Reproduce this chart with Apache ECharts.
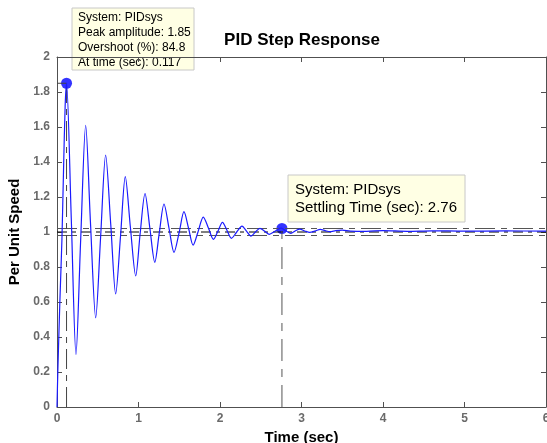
<!DOCTYPE html>
<html>
<head>
<meta charset="utf-8">
<script src="https://cdn.jsdelivr.net/npm/echarts@6/dist/echarts.min.js"></script>
<style>
html,body{margin:0;padding:0;background:#fff;overflow:hidden;}
#c{width:547px;height:443px;}
</style>
</head>
<body>
<div id="c"></div>
<script>
// ---- data ----
const timeSec = [0, 0.01, 0.035, 0.06, 0.08, 0.1, 0.117, 0.175, 0.233, 0.29, 0.352, 0.41, 0.475, 0.535, 0.597, 0.66, 0.72, 0.78, 0.838, 0.9, 0.966, 1.02, 1.08, 1.14, 1.2, 1.255, 1.313, 1.375, 1.436, 1.5, 1.558, 1.615, 1.67, 1.73, 1.795, 1.86, 1.92, 1.975, 2.03, 2.085, 2.14, 2.205, 2.27, 2.325, 2.38, 2.435, 2.49, 2.55, 2.605, 2.67, 2.75, 2.81, 2.87, 2.92, 2.98, 3.04, 3.1, 3.17, 3.23, 3.29, 3.35, 3.42, 3.5, 3.6, 3.8, 4.0, 4.3, 4.6, 5.0, 5.5, 6.0];
const speed = [0, 0.2, 0.6, 0.95, 1.35, 1.72, 1.85, 1.08, 0.30, 0.95, 1.61, 1.06, 0.51, 0.97, 1.44, 1.04, 0.646, 0.98, 1.316, 1.03, 0.749, 0.99, 1.22, 1.02, 0.827, 0.995, 1.16, 1.02, 0.884, 1.0, 1.116, 1.02, 0.925, 1.0, 1.085, 1.02, 0.958, 1.005, 1.055, 1.01, 0.964, 1.0, 1.034, 1.005, 0.977, 1.0, 1.021, 1.004, 0.987, 1.003, 1.022, 1.006, 0.992, 1.005, 1.016, 1.006, 0.998, 1.006, 1.015, 1.008, 1.002, 1.008, 1.011, 1.005, 1.004, 1.008, 1.004, 1.007, 1.005, 1.006, 1.005];
const peakTime = 0.117, peakAmp = 1.85, overshootPct = 84.8;
const settleTime = 2.76, settleAmp = 1.02;
const steadyValue = 1.0;
const settleBand = [0.98, 1.02];
const xTicks = [0, 1, 2, 3, 4, 5, 6];
const yTicks = [0, 0.2, 0.4, 0.6, 0.8, 1, 1.2, 1.4, 1.6, 1.8, 2];
const systemName = 'PIDsys';

// ---- chart ----
const FONT = '"Liberation Sans", Arial, Helvetica, sans-serif';
const AX = '#505050';
const chart = echarts.init(document.getElementById('c'), null, {renderer: 'canvas'});

const responseData = timeSec.map((t, i) => [t, speed[i]]);
const xMin = xTicks[0], xMax = xTicks[xTicks.length - 1];
const yMin = yTicks[0], yMax = yTicks[yTicks.length - 1];
const xInt = xTicks[1] - xTicks[0];
const yInt = 0.2;

function fmtY(v){ return (Math.round(v * 10) / 10).toString(); }

const axisCommon = {
  axisLine: {show: true, onZero: false, lineStyle: {color: AX, width: 1}},
  axisTick: {show: true, inside: true, length: 5, lineStyle: {color: AX}},
  splitLine: {show: false}
};

const dashDot = [20, 6, 6, 6];

const option = {
  animation: false,
  backgroundColor: '#ffffff',
  grid: {left: 57, right: 1, top: 57, bottom: 36, containLabel: false, outerBoundsMode: 'none'},
  xAxis: [
    Object.assign({
      type: 'value', position: 'bottom', min: xMin, max: xMax, interval: xInt,
      name: 'Time (sec)', nameLocation: 'middle', nameGap: 20,
      nameTextStyle: {fontFamily: FONT, fontWeight: 'bold', fontSize: 15, color: '#000'},
      axisLabel: {fontFamily: FONT, fontWeight: 'bold', fontSize: 12, color: '#6a6a6a', margin: 6}
    }, axisCommon),
    Object.assign({
      type: 'value', position: 'top', min: xMin, max: xMax, interval: xInt,
      axisLabel: {show: false}
    }, axisCommon)
  ],
  yAxis: [
    Object.assign({
      type: 'value', position: 'left', min: yMin, max: yMax, interval: yInt,
      name: 'Per Unit Speed', nameLocation: 'middle', nameGap: 33, nameRotate: 90,
      nameTextStyle: {fontFamily: FONT, fontWeight: 'bold', fontSize: 15, color: '#000'},
      axisLabel: {fontFamily: FONT, fontWeight: 'bold', fontSize: 12, color: '#6a6a6a', margin: 7, formatter: fmtY}
    }, axisCommon),
    Object.assign({
      type: 'value', position: 'right', min: yMin, max: yMax, interval: yInt,
      axisLabel: {show: false}
    }, axisCommon)
  ],
  series: [
    { // settling band lines
      type: 'line', silent: true, symbol: 'none',
      data: [[xMin, settleBand[1]], [xMax, settleBand[1]]],
      lineStyle: {color: '#555', width: 1, type: dashDot}
    },
    {
      type: 'line', silent: true, symbol: 'none',
      data: [[xMin, settleBand[0]], [xMax, settleBand[0]]],
      lineStyle: {color: '#555', width: 1, type: dashDot}
    },
    { // steady state
      type: 'line', silent: true, symbol: 'none',
      data: [[xMin, steadyValue], [xMax, steadyValue]],
      lineStyle: {color: '#000', width: 1, type: [10, 5, 4, 5]}
    },
    { // peak vertical
      type: 'line', silent: true, symbol: 'none',
      data: [[peakTime, yMin], [peakTime, peakAmp]],
      lineStyle: {color: '#444', width: 1, type: dashDot}
    },
    { // peak horizontal
      type: 'line', silent: true, symbol: 'none',
      data: [[xMin, peakAmp], [peakTime, peakAmp]],
      lineStyle: {color: '#444', width: 1, type: dashDot}
    },
    { // settling vertical
      type: 'line', silent: true, symbol: 'none',
      data: [[settleTime, yMin], [settleTime, settleAmp]],
      lineStyle: {color: '#555', width: 1, type: [22, 8, 8, 8]}
    },
    { // response
      type: 'line', name: systemName, symbol: 'none', smooth: 0.3,
      data: responseData,
      lineStyle: {color: '#1a1aff', width: 1.2}
    },
    { // markers
      type: 'scatter', symbol: 'circle', symbolSize: 11,
      data: [[peakTime, peakAmp], [settleTime, settleAmp]],
      itemStyle: {color: '#0000ff'}
    }
  ],
  graphic: [
    {
      type: 'text', x: 302, y: 40,
      style: {text: 'PID Step Response', font: 'bold 17px ' + FONT, fill: '#000', textAlign: 'center', textVerticalAlign: 'middle'}
    },
    {
      type: 'group', x: 72, y: 8,
      children: [
        {type: 'rect', shape: {x: 0, y: 0, width: 122, height: 62},
         style: {fill: '#ffffe4', stroke: '#c8c8c8', lineWidth: 1}},
        {type: 'text', x: 6, y: 10, style: {text: 'System: ' + systemName, font: '12px ' + FONT, fill: '#000', textVerticalAlign: 'middle'}},
        {type: 'text', x: 6, y: 25, style: {text: 'Peak amplitude: ' + peakAmp.toFixed(2), font: '12px ' + FONT, fill: '#000', textVerticalAlign: 'middle'}},
        {type: 'text', x: 6, y: 40, style: {text: 'Overshoot (%): ' + overshootPct.toFixed(1), font: '12px ' + FONT, fill: '#000', textVerticalAlign: 'middle'}},
        {type: 'text', x: 6, y: 55, style: {text: 'At time (sec): ' + peakTime, font: '12px ' + FONT, fill: '#000', textVerticalAlign: 'middle'}}
      ]
    },
    {
      type: 'group', x: 288, y: 175,
      children: [
        {type: 'rect', shape: {x: 0, y: 0, width: 177, height: 47},
         style: {fill: '#ffffe4', stroke: '#c8c8c8', lineWidth: 1}},
        {type: 'text', x: 7, y: 15, style: {text: 'System: ' + systemName, font: '15px ' + FONT, fill: '#000', textVerticalAlign: 'middle'}},
        {type: 'text', x: 7, y: 33, style: {text: 'Settling Time (sec): ' + settleTime, font: '15px ' + FONT, fill: '#000', textVerticalAlign: 'middle'}}
      ]
    }
  ]
};
chart.setOption(option);
</script>
</body>
</html>
